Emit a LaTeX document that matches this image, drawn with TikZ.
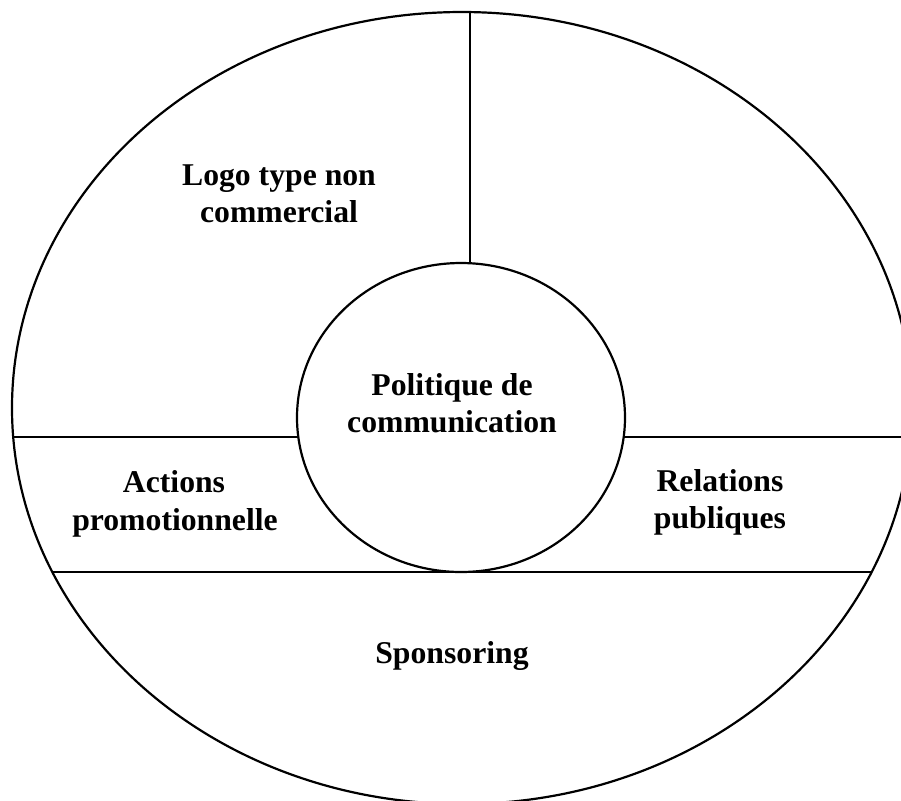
\documentclass[tikz,border=0pt]{standalone}
\usepackage{fontspec}
\setmainfont{Liberation Serif}
\begin{document}
\begin{tikzpicture}[x=0.5pt,y=-0.5pt,line width=1.1pt,
  lbl/.style={font=\fontsize{15.85}{18.5}\selectfont\bfseries,anchor=base,inner sep=0pt}]
\useasboundingbox (0,0) rectangle (901,800);
% outer and inner ellipses
\draw (462,408) ellipse [x radius=450, y radius=396];
\draw (461,417.5) ellipse [x radius=164, y radius=154.5];
% named end points of the dividing lines
\coordinate (topO) at (470,12.1);
\coordinate (topI) at (470,263.2);
\coordinate (uLO) at (13.2,437);
\coordinate (uLI) at (298.3,437);
\coordinate (uRI) at (623.7,437);
\coordinate (uRO) at (910.8,437);
\coordinate (lL) at (52.4,572);
\coordinate (lR) at (871.6,572);
\draw (topO) -- (topI);
\draw (uLO) -- (uLI);
\draw (uRI) -- (uRO);
\draw (lL) -- (lR);
% labels
\node[lbl] (logo1) at (279,185) {Logo type non};
\node[lbl] (logo2) at (279,222) {commercial};
\node[lbl] (pol1) at (452,395) {Politique de};
\node[lbl] (pol2) at (452,432) {communication};
\node[lbl] (act1) at (174,492) {Actions};
\node[lbl] (act2) at (175,530) {promotionnelle};
\node[lbl] (rel1) at (720,491) {Relations};
\node[lbl] (rel2) at (720,528) {publiques};
\node[lbl] (spon) at (452,663) {Sponsoring};
\end{tikzpicture}
\end{document}
